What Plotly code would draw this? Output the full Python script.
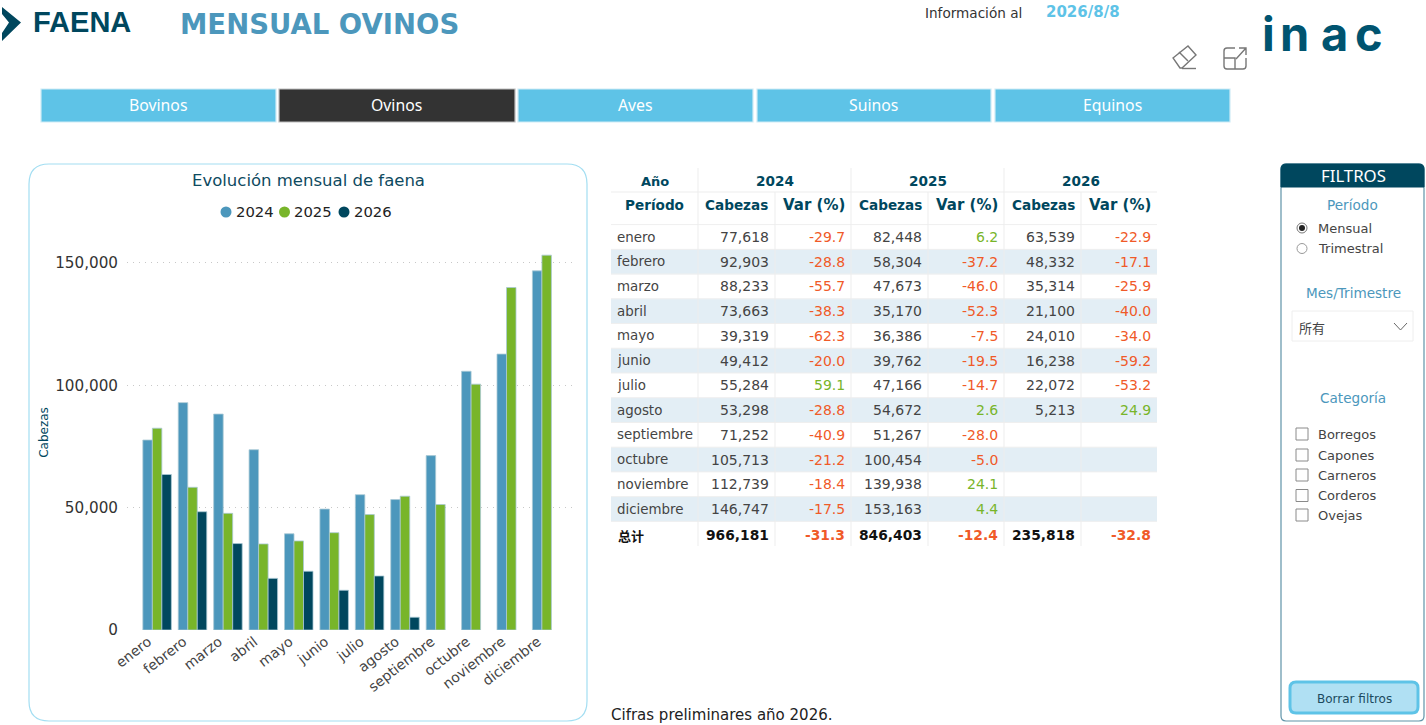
import plotly.graph_objects as go

W, H = 1426, 725

# ---------- data ----------
months = ["enero", "febrero", "marzo", "abril", "mayo", "junio", "julio", "agosto",
          "septiembre", "octubre", "noviembre", "diciembre"]
years = ["2024", "2025", "2026"]
head_2024 = [77618, 92903, 88233, 73663, 39319, 49412, 55284, 53298, 71252, 105713, 112739, 146747]
var_2024 = [-29.7, -28.8, -55.7, -38.3, -62.3, -20.0, 59.1, -28.8, -40.9, -21.2, -18.4, -17.5]
head_2025 = [82448, 58304, 47673, 35170, 36386, 39762, 47166, 54672, 51267, 100454, 139938, 153163]
var_2025 = [6.2, -37.2, -46.0, -52.3, -7.5, -19.5, -14.7, 2.6, -28.0, -5.0, 24.1, 4.4]
head_2026 = [63539, 48332, 35314, 21100, 24010, 16238, 22072, 5213, None, None, None, None]
var_2026 = [-22.9, -17.1, -25.9, -40.0, -34.0, -59.2, -53.2, 24.9, None, None, None, None]
total_label = "总计"
total_heads = [966181, 846403, 235818]
total_vars = [-31.3, -12.4, -32.8]
y_ticks = [0, 50000, 100000, 150000]
tabs = ["Bovinos", "Ovinos", "Aves", "Suinos", "Equinos"]
categories = ["Borregos", "Capones", "Carneros", "Corderos", "Ovejas"]

# ---------- style ----------
C24, C25, C26 = "#4C97BC", "#78B52A", "#00475E"
SKY = "#5EC3E7"
RED = "#F05A28"
TXT = "#444444"
FONT = "DejaVu Sans"
series_colors = [C24, C25, C26]

shapes, notes = [], []
px = lambda x: x / W
py = lambda y: 1 - y / H


def T(x, y, text, size=13, color=TXT, anchor="left", bold=False, font=FONT):
    notes.append(dict(x=px(x), y=py(y), xref="paper", yref="paper", text=text, showarrow=False,
                      xanchor=anchor, yanchor="middle", borderpad=0,
                      font=dict(size=size, color=color, family=font, weight=700 if bold else 400)))


def R(x0, y0, x1, y1, fill=None, line=None, lw=1, layer="below"):
    shapes.append(dict(type="rect", xref="paper", yref="paper", x0=px(x0), x1=px(x1), y0=py(y0), y1=py(y1),
                       fillcolor=fill or "rgba(0,0,0,0)",
                       line=dict(color=line or "rgba(0,0,0,0)", width=lw if line else 0), layer=layer))


def P(points, fill=None, line=None, lw=1, close=False):
    d = ""
    for p in points:
        if p[0] == "Q":
            d += f"Q{px(p[1])},{py(p[2])} {px(p[3])},{py(p[4])} "
        else:
            d += f"{p[0]}{px(p[1])},{py(p[2])} "
    if close:
        d += "Z"
    shapes.append(dict(type="path", xref="paper", yref="paper", path=d, fillcolor=fill or "rgba(0,0,0,0)",
                       line=dict(color=line or "rgba(0,0,0,0)", width=lw if line else 0), layer="below"))


def RR(x0, y0, x1, y1, r, fill=None, line=None, lw=1, top_only=False):
    rb = 0 if top_only else r
    P([("M", x0 + r, y0), ("L", x1 - r, y0), ("Q", x1, y0, x1, y0 + r), ("L", x1, y1 - rb),
       ("Q", x1, y1, x1 - rb, y1), ("L", x0 + rb, y1), ("Q", x0, y1, x0, y1 - rb), ("L", x0, y0 + r),
       ("Q", x0, y0, x0 + r, y0)], fill, line, lw, True)


def C(cx, cy, r, fill=None, line=None, lw=1):
    shapes.append(dict(type="circle", xref="paper", yref="paper", x0=px(cx - r), x1=px(cx + r),
                       y0=py(cy - r), y1=py(cy + r), fillcolor=fill or "rgba(0,0,0,0)",
                       line=dict(color=line or "rgba(0,0,0,0)", width=lw if line else 0), layer="below"))


# ---------- header ----------
P([("M", 2, 7), ("L", 21, 22.5), ("L", 2, 41), ("L", 2, 33), ("L", 9, 22.5), ("L", 2, 14)], fill=C26, close=True)
T(32, 22.5, "FAENA", 29, C26, bold=True, font="Liberation Sans")
T(178.5, 24, "MENSUAL OVINOS", 27.5, C24, bold=True, font="DejaVu Sans")
T(924, 13, "Información al", 13.6, "#333333")
T(1045, 12, "2026/8/8", 15, SKY, bold=True)
for lx, ch in zip([1268, 1294.5, 1334, 1369], "inac"):
    T(lx, 33.5, ch, 47, "#005470", "center", True, "Inter")
# eraser icon
P([("M", 1173, 58), ("L", 1188, 46), ("L", 1196, 55), ("L", 1182, 68), ("L", 1180, 68)],
  line="#777", lw=1.4, close=True)
P([("M", 1179, 52), ("L", 1188, 61)], line="#777", lw=1.4)
P([("M", 1182, 68.5), ("L", 1196, 68.5)], line="#777", lw=1.4)
# expand icon
P([("M", 1235, 48), ("L", 1227, 48), ("Q", 1224, 48, 1224, 51), ("L", 1224, 66), ("Q", 1224, 69, 1227, 69),
   ("L", 1243, 69), ("Q", 1246, 69, 1246, 66), ("L", 1246, 58)], line="#777", lw=1.4)
P([("M", 1224, 58), ("L", 1235, 58), ("L", 1235, 69)], line="#777", lw=1.4)
P([("M", 1236, 59), ("L", 1246, 48), ("M", 1239, 48), ("L", 1246, 48), ("L", 1246, 55)], line="#777", lw=1.4)

# ---------- tabs ----------
tab_edges = [(41, 276), (279, 515), (518, 753), (757, 991), (995, 1230)]
for name, (a, b) in zip(tabs, tab_edges):
    active = name == "Ovinos"
    R(a, 89, b, 122, "#333333" if active else SKY, "#BDBDBD" if active else "#CFEBF6", 1.2)
    T((a + b) / 2 - 0.5, 105.5, name, 15.8, "#FFFFFF", "center", font="Noto Sans")

# ---------- chart card ----------
RR(29, 164, 587, 721, 20, "#FFFFFF", "#A3DEF2", 1.2)
T(308, 180, "Evolución mensual de faena", 16.5, "#0E4A60", "center")
for lx, yr, col in zip([226, 284.5, 344], years, series_colors):
    C(lx, 212, 5.5, col)
    T(lx + 8.5, 211.5, yr, 14.8, "#222222")

# ---------- table ----------
COLS = [611, 698, 775, 851, 928, 1004, 1081, 1157]
ROW0, STEP = 237, 24.73
for i in range(len(months)):
    if i % 2:
        R(611, ROW0 + STEP * i - 12.4, 1157, ROW0 + STEP * i + 12.4, "#E3EEF5")
for i in range(len(months) + 1):
    yy = ROW0 + STEP * i - 12.4
    P([("M", 611, yy), ("L", 1157, yy)], line="#EFEFEF", lw=1)
P([("M", 611, 192), ("L", 1157, 192)], line="#EDEDED", lw=1)
for x, top in zip(COLS[1:-1], [168, 192, 168, 192, 168, 192]):
    P([("M", x, top), ("L", x, 546)], line="#EDEDED", lw=1)

T(654.5, 181, "Año", 13, C26, "center", True)
T(654.5, 205, "Período", 13.6, C26, "center", True)
for k, yr in enumerate(years):
    T((COLS[1 + 2 * k] + COLS[3 + 2 * k]) / 2, 181, yr, 13.6, C26, "center", True)
    T(COLS[2 + 2 * k] - 5.5, 205, "Cabezas", 13.6, C26, "right", True)
    T(COLS[3 + 2 * k] - 5, 205, "Var (%)", 15, C26, "right", True)


def var_col(v):
    return C25 if v > 0 else RED


series = [(head_2024, var_2024), (head_2025, var_2025), (head_2026, var_2026)]
for i, m in enumerate(months):
    yy = ROW0 + STEP * i
    T(616, yy, m, 13.4)
    for k, (hh, vv) in enumerate(series):
        if hh[i] is not None:
            T(COLS[2 + 2 * k] - 5, yy, f"{hh[i]:,}", 14, TXT, "right")
            T(COLS[3 + 2 * k] - 5, yy, f"{vv[i]:.1f}", 14, var_col(vv[i]), "right")
yt = 535
T(617, yt, total_label, 13, "#111111", bold=True, font="Noto Sans CJK SC")
for k in range(3):
    T(COLS[2 + 2 * k] - 5, yt, f"{total_heads[k]:,}", 13.8, "#111111", "right", True)
    T(COLS[3 + 2 * k] - 5, yt, f"{total_vars[k]:.1f}", 13.8, RED, "right", True)
T(610, 715, "Cifras preliminares año 2026.", 15, "#222222")

# ---------- filter panel ----------
RR(1281, 164, 1424, 721, 5, "#FFFFFF", "#5F93A8", 1.2)
RR(1281, 164, 1424, 187, 5, C26, C26, 1, top_only=True)
T(1353.5, 175, "FILTROS", 16.8, "#FFFFFF", "center", font="Noto Sans")
T(1352, 205, "Período", 13.6, C24, "center")
C(1302, 228, 5, None, "#777", 1)
C(1302, 228, 3, "#222222")
T(1317, 228, "Mensual", 13)
C(1302, 248.5, 5, None, "#999", 1)
T(1317, 248.5, "Trimestral", 13)
T(1353, 293, "Mes/Trimestre", 13.6, C24, "center")
R(1292, 311, 1413, 341, "#FFFFFF", "#EEEEEE", 1)
T(1298, 328, "所有", 13, TXT, font="Noto Sans CJK SC")
P([("M", 1394, 323), ("L", 1400.5, 330), ("L", 1407, 323)], line="#666", lw=1)
T(1352.5, 398, "Categoría", 13.6, C24, "center")
for yy, name in zip([434, 455, 475, 495.5, 515], categories):
    R(1296, yy - 6, 1308, yy + 6, "#FFFFFF", "#8A8A8A", 1)
    T(1317, yy, name, 13)
RR(1290, 682, 1418, 713, 6, "#B0E0F3", SKY, 3)
T(1354, 698.5, "Borrar filtros", 12, "#1B4A5E", "center")

# ---------- bars ----------
fig = go.Figure()
for yr, (hh, _), col in zip(years, series, series_colors):
    fig.add_trace(go.Bar(name=yr, x=months, y=hh, marker=dict(color=col, line=dict(color="#A9C9D6", width=0.8)),
                         showlegend=False))

fig.update_layout(
    width=W, height=H, autosize=False, margin=dict(l=0, r=0, t=0, b=0, autoexpand=False),
    paper_bgcolor="#FFFFFF", plot_bgcolor="rgba(0,0,0,0)",
    barmode="group", bargap=0.195, bargroupgap=0,
    font=dict(family=FONT, color=TXT),
    shapes=shapes, annotations=notes,
    xaxis=dict(domain=[px(127), px(575)], range=[-0.85, 11.8], type="category", categoryarray=months,
               showgrid=False, zeroline=False, showline=False, ticks="", tickangle=-38,
               ticklabelshift=-9, tickfont=dict(size=14, color="#444444")),
    yaxis=dict(domain=[py(630), py(235)], range=[0, 161400], tickvals=y_ticks, tickformat=",",
               showgrid=True, gridcolor="#C8C8C8", griddash="1px,5px", gridwidth=1, zeroline=False, showline=False,
               ticks="", ticklabelstandoff=8, tickfont=dict(size=15.2, color="#333333"),
               title=dict(text="Cabezas", font=dict(size=12, color=C26), standoff=3)),
)

fig.write_html("out.html", config=dict(displayModeBar=False),
               post_script="document.body.style.margin='0';document.body.style.overflow='hidden';")
